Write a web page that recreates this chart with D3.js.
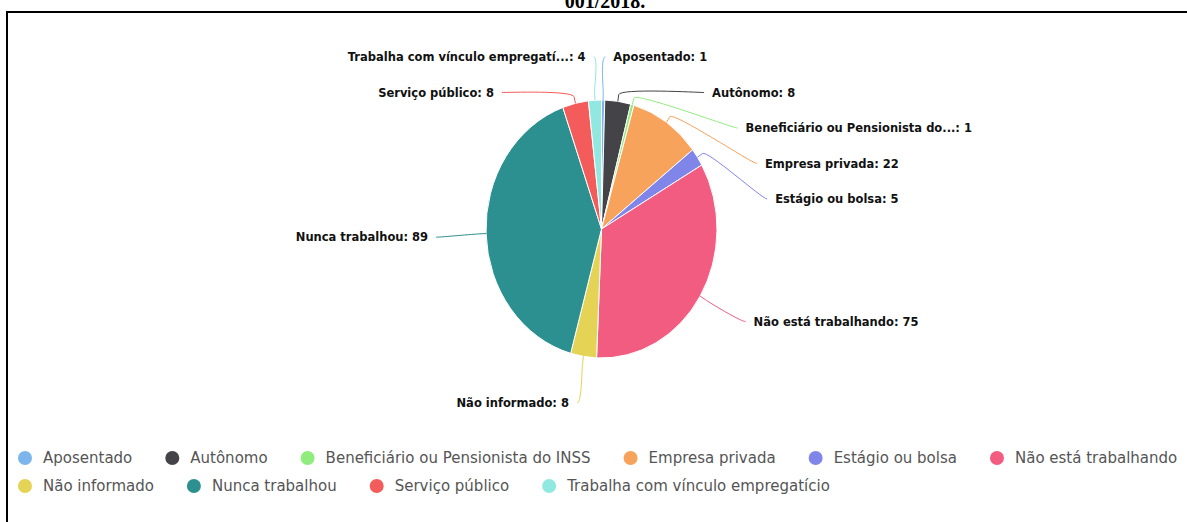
<!DOCTYPE html>
<html>
<head>
<meta charset="utf-8">
<script src="https://cdn.jsdelivr.net/npm/d3@7"></script>
<style>
  html, body { margin: 0; padding: 0; background: #fff; }
  svg { display: block; }
</style>
</head>
<body>
<svg id="chart" width="1187" height="522"></svg>
<script>
// ---- data ----
const categories = ["Aposentado", "Autônomo", "Beneficiário ou Pensionista do INSS", "Empresa privada", "Estágio ou bolsa", "Não está trabalhando", "Não informado", "Nunca trabalhou", "Serviço público", "Trabalha com vínculo empregatício"];
const labelNames = ["Aposentado", "Autônomo", "Beneficiário ou Pensionista do...", "Empresa privada", "Estágio ou bolsa", "Não está trabalhando", "Não informado", "Nunca trabalhou", "Serviço público", "Trabalha com vínculo empregatí..."];
const values = [1, 8, 1, 22, 5, 75, 8, 89, 8, 4];
const colors = ["#7cb5ec", "#434348", "#90ed7d", "#f7a35c", "#8085e9", "#f15c80", "#e4d354", "#2b908f", "#f45b5b", "#91e8e1"];
const titleText = "001/2018.";

// ---- layout ----
const W = 1187, H = 522;
const cx = 601.5, cy = 229, R = 115.5, sy = 129 / 115.5;
const lab = { cx: 603, cy: 231, rx: 167, ry: 174, spacing: 35.5, top: 57, bottom: 405 };

const svg = d3.select("#chart");

// frame
svg.append("rect").attr("x", 7).attr("y", 12).attr("width", 1260).attr("height", 600)
  .attr("fill", "#fff").attr("stroke", "#000").attr("stroke-width", 2);
svg.append("text").attr("x", 605).attr("y", 8).attr("text-anchor", "middle")
  .attr("font-family", "Liberation Serif, serif").attr("font-weight", "bold").attr("font-size", 20)
  .attr("fill", "#000").text(titleText);

// pie
const pie = d3.pie().sort(null).value(d => d);
const arcs = pie(values);
const arc = d3.arc().innerRadius(0).outerRadius(R);

const gPie = svg.append("g").attr("transform", `translate(${cx},${cy}) scale(1,${sy})`);
gPie.selectAll("path").data(arcs).join("path")
  .attr("d", arc)
  .attr("fill", (d, i) => colors[i])
  .attr("stroke", "#fff").attr("stroke-width", 1)
  .attr("vector-effect", "non-scaling-stroke");

// label positions (Highcharts-like distribution)
const pts = arcs.map((d, i) => {
  const a = (d.startAngle + d.endAngle) / 2;
  return { i, a, left: a > Math.PI, natural: lab.cy - Math.cos(a) * lab.ry };
});

function distribute(items) {
  items.sort((p, q) => p.natural - q.natural);
  let clusters = items.map(d => ({ m: [d] }));
  const place = c => {
    const n = c.m.length;
    let s = d3.mean(c.m, d => d.natural) - (n - 1) * lab.spacing / 2;
    s = Math.max(lab.top, Math.min(lab.bottom - (n - 1) * lab.spacing, s));
    c.start = s;
  };
  clusters.forEach(place);
  let merged = true;
  while (merged) {
    merged = false;
    for (let k = 0; k < clusters.length - 1; k++) {
      const A = clusters[k], B = clusters[k + 1];
      if (A.start + A.m.length * lab.spacing > B.start) {
        const C = { m: A.m.concat(B.m) };
        place(C);
        clusters.splice(k, 2, C);
        merged = true;
        break;
      }
    }
  }
  clusters.forEach(c => c.m.forEach((d, j) => { d.y = c.start + j * lab.spacing; }));
}
distribute(pts.filter(p => !p.left));
distribute(pts.filter(p => p.left));

function getX(y, left) {
  const t = Math.max(-1, Math.min(1, (y - lab.cy) / lab.ry));
  return lab.cx + (left ? -1 : 1) * Math.sqrt(1 - t * t) * lab.rx;
}
pts.forEach(p => {
  const atEdge = Math.abs(p.y - lab.top) < 0.5 || Math.abs(p.y - lab.bottom) < 0.5;
  p.x = getX(atEdge ? p.natural : p.y, p.left);
});

const gLab = svg.append("g");
pts.forEach(p => {
  const tx = cx + Math.sin(p.a) * R, ty = cy - Math.cos(p.a) * R * sy;
  const bx = cx + Math.sin(p.a) * (R + 6), by = cy - Math.cos(p.a) * (R + 6) * sy;
  const c1x = p.x + (p.left ? 5 : -5);
  const path = `M${p.x},${p.y} C${c1x},${p.y} ${2 * bx - tx},${2 * by - ty} ${bx},${by} L${tx},${ty}`;
  gLab.append("path").attr("d", path).attr("fill", "none")
    .attr("stroke", colors[p.i]).attr("stroke-width", 1);
  gLab.append("text")
    .attr("x", p.x + (p.left ? -8 : 8)).attr("y", p.y).attr("dy", "0.35em")
    .attr("text-anchor", p.left ? "end" : "start")
    .attr("font-family", "DejaVu Sans, sans-serif").attr("font-weight", "bold").attr("font-size", 11.5)
    .attr("fill", "#111")
    .text(`${labelNames[p.i]}: ${values[p.i]}`);
});

// legend
const gLeg = svg.append("g");
const rowsY = [458, 486];
let lx = 25, row = 0;
const maxW = 1260;
categories.forEach((c, i) => {
  const item = gLeg.append("g");
  const t = item.append("text").attr("x", 18).attr("y", 0).attr("dy", "0.35em")
    .attr("font-family", "DejaVu Sans, sans-serif").attr("font-size", 15)
    .attr("fill", "#555").text(c);
  const w = t.node().getComputedTextLength();
  if (lx + 18 + w > maxW) { row++; lx = 25; }
  item.attr("transform", `translate(${lx},${rowsY[row]})`);
  item.insert("circle", "text").attr("cx", 0).attr("cy", 0).attr("r", 7).attr("fill", colors[i]);
  lx += 18 + w + 40;
});
</script>
</body>
</html>
